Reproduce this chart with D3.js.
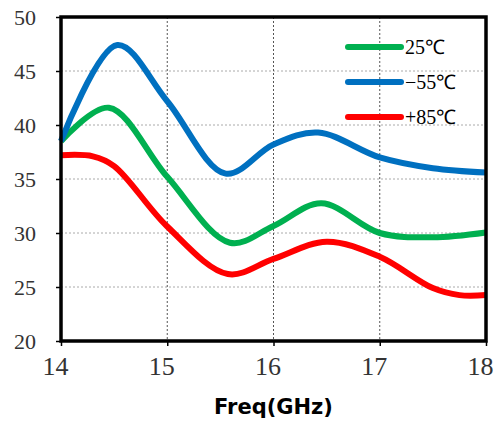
<!DOCTYPE html>
<html>
<head>
<meta charset="utf-8">
<script src="https://cdn.jsdelivr.net/npm/d3@7"></script>
<style>
  body { margin: 0; background: #fff; }
  .grid line { stroke: #aaa; stroke-dasharray: 2,2; }
  .vgrid line { stroke: #555; stroke-dasharray: 2,2; }
  .serif { font-family: "Liberation Serif", "Times New Roman", serif; }
</style>
</head>
<body>
<svg id="svg1" width="497" height="421"></svg>
<script>
const svg = d3.select("svg#svg1");
const margin = { top: 17, right: 11, bottom: 80, left: 61 };
const chartWidth = 497 - margin.left - margin.right;
const chartHeight = 421 - margin.top - margin.bottom;

// data (GHz, value)
const freqTicks = [14, 15, 16, 17, 18];
const valueTicks = [20, 25, 30, 35, 40, 45, 50];
const seriesNames = ["25℃", "−55℃", "+85℃"];
const seriesColors = ["#00b050", "#0070c0", "#ff0000"];

const green25 = [[14, 38.5], [14.45, 41.6], [15, 35.2], [15.59, 29.1], [16, 30.65],
    [16.45, 32.75], [17, 30.0], [17.5, 29.6], [18, 30.05]];
const blue55 = [[14, 38.5], [14.53, 47.4], [15, 42.2], [15.55, 35.5], [16, 38.2],
    [16.42, 39.3], [17, 37.0], [17.5, 36.0], [18, 35.6]];
const red85 = [[14, 37.2], [14.3, 37.1], [14.5, 36.2], [15, 30.6], [15.57, 26.2], [16, 27.6],
    [16.5, 29.2], [17, 27.8], [17.5, 24.9], [17.75, 24.25], [18, 24.25]];
const seriesData = [green25, blue55, red85];

const x = d3.scaleLinear().domain([14, 18]).range([0, chartWidth]);
const y = d3.scaleLinear().domain([20, 50]).range([chartHeight, 0]);

let chartArea = svg.append("g")
    .attr("transform", `translate(${margin.left},${margin.top})`);

// gridlines
chartArea.append("g").attr("class", "grid")
    .selectAll("line").data(valueTicks.slice(1, -1)).join("line")
    .attr("x1", 0).attr("x2", chartWidth)
    .attr("y1", d => y(d)).attr("y2", d => y(d));
chartArea.append("g").attr("class", "vgrid")
    .selectAll("line").data(freqTicks.slice(1, -1)).join("line")
    .attr("y1", 0).attr("y2", chartHeight)
    .attr("x1", d => x(d)).attr("x2", d => x(d));

// axes
let leftAxis = d3.axisLeft(y).tickValues(valueTicks).tickFormat(d3.format("d"))
    .tickSize(5).tickSizeOuter(0);
let bottomAxis = d3.axisBottom(x).tickValues(freqTicks).tickFormat(d3.format("d"))
    .tickSize(5).tickSizeOuter(0);

let gy = chartArea.append("g").call(leftAxis).attr("font-family", null);
gy.select(".domain").remove();
gy.selectAll(".tick line").attr("stroke", "#000").attr("stroke-width", 1.5);
gy.selectAll(".tick text")
    .attr("class", "serif")
    .attr("x", -25)
    .attr("font-size", 22).attr("fill", "#333");

let gx = chartArea.append("g").attr("transform", `translate(0,${chartHeight})`)
    .call(bottomAxis).attr("font-family", null);
gx.select(".domain").remove();
gx.selectAll(".tick line").attr("stroke", "#000").attr("stroke-width", 1.5);
gx.selectAll(".tick text")
    .attr("class", "serif")
    .attr("x", -6)
    .attr("y", 16)
    .attr("font-size", 26).attr("fill", "#333");

// series
const lineGen = d3.line()
    .x(d => x(d[0]))
    .y(d => y(d[1]))
    .curve(d3.curveCatmullRom.alpha(0.5));

chartArea.selectAll("path.series").data(seriesData).join("path")
    .attr("class", "series")
    .attr("d", d => lineGen(d))
    .attr("fill", "none")
    .attr("stroke", (d, i) => seriesColors[i])
    .attr("stroke-width", 6)
    .attr("stroke-linejoin", "round");

// frame
chartArea.append("rect")
    .attr("width", chartWidth).attr("height", chartHeight)
    .attr("fill", "none").attr("stroke", "#000").attr("stroke-width", 3.5);

// legend
let legend = chartArea.append("g").attr("transform", "translate(287,30)");
seriesNames.forEach((name, i) => {
    legend.append("line")
        .attr("x1", 0).attr("x2", 53)
        .attr("y1", i * 35).attr("y2", i * 35)
        .attr("stroke", seriesColors[i]).attr("stroke-width", 6)
        .attr("stroke-linecap", "round");
    legend.append("text")
        .attr("class", "serif")
        .attr("x", 57).attr("y", i * 35 + 7)
        .attr("font-size", 20)
        .text(name);
});

// x title
svg.append("text")
    .attr("x", margin.left + x(16)).attr("y", 414)
    .attr("text-anchor", "middle")
    .style("font-family", "'DejaVu Sans', sans-serif")
    .style("font-weight", "bold").style("font-size", "21px")
    .text("Freq(GHz)");
</script>
</body>
</html>
